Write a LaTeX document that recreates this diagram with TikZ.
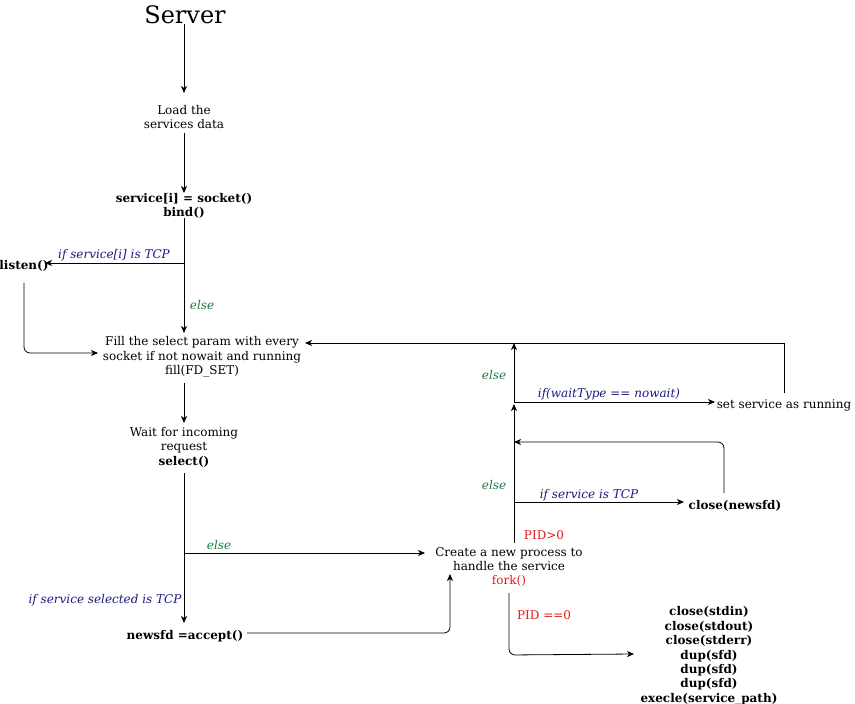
\documentclass[tikz,border=0pt]{standalone}
\usepackage{fontspec}
\setmainfont{DejaVu Serif}
\usetikzlibrary{arrows.meta}
\definecolor{navy}{HTML}{1A1A80}
\definecolor{grn}{HTML}{1B7A45}
\definecolor{pidred}{HTML}{E01B1B}
\begin{document}
\begin{tikzpicture}[x=1pt,y=-1pt,
  txt/.style={inner sep=0pt,align=center,yshift=-2pt,font=\fontsize{12}{14.4}\selectfont},
  btxt/.style={txt,font=\fontsize{12}{14.4}\selectfont\bfseries},
  cond/.style={inner sep=0pt,yshift=-1.5pt,font=\fontsize{12}{14.4}\selectfont\itshape,text=navy},
  elsel/.style={inner sep=0pt,yshift=-1.5pt,font=\fontsize{12}{14.4}\selectfont\itshape,text=grn},
  pid/.style={inner sep=0pt,yshift=-1.5pt,font=\fontsize{12}{14.4}\selectfont,text=pidred},
  conn/.style={draw,line width=0.8pt,-{Stealth[length=7pt,width=6pt,inset=2pt]}},
  plain/.style={draw,line width=0.8pt},
  rc/.style={rounded corners=6pt}]
\useasboundingbox (0,0) rectangle (855,704);

% nodes
\node[txt,yshift=1pt,font=\fontsize{24}{28}\selectfont] (server) at (185,14) {Server};
\node[txt] (load) at (184,115) {Load the\\services data};
\node[btxt] (sock) at (184,204) {service[i] = socket()\\bind()};
\node[btxt] (listen) at (24,264) {listen()};
\node[txt] (fill) at (202,355) {Fill the select param with every\\socket if not nowait and running\\fill(FD\_SET)};
\node[txt] (wait) at (184,445) {Wait for incoming\\request\\\textbf{select()}};
\node[btxt] (accept) at (185,634) {newsfd =accept()};
\node[txt] (fork) at (509,565) {Create a new process to\\handle the service\\\textcolor{pidred}{fork()}};
\node[btxt] (close) at (735,504) {close(newsfd)};
\node[txt] (running) at (784,403) {set service as running};
\node[btxt] (child) at (709,654) {close(stdin)\\close(stdout)\\close(stderr)\\dup(sfd)\\dup(sfd)\\dup(sfd)\\execle(service\_path)};

% labels
\node[cond] (l1) at (114,254) {if service[i] is TCP};
\node[elsel] (l2) at (202,304) {else};
\node[elsel] (l3) at (219,544) {else};
\node[cond] (l4) at (105,599) {if service selected is TCP};
\node[pid] (l5) at (544,534) {PID>0};
\node[pid] (l6) at (544,614) {PID ==0};
\node[elsel] (l7) at (494,484) {else};
\node[cond] (l8) at (589,494) {if service is TCP};
\node[elsel] (l9) at (494,374) {else};
\node[cond] (l10) at (609,393) {if(waitType == nowait)};

% coordinates
\coordinate (jA) at (184,263);
\coordinate (jB) at (184,553);
\coordinate (jC) at (514,502);
\coordinate (jD) at (514,402);
\coordinate (forkup) at (514,543);
\coordinate (fillin) at (305,343);
\coordinate (closein) at (514,442);

% connectors
\draw[conn] (184,24) -- (184,93);
\draw[conn] (184,133) -- (184,193);
\draw[plain] (184,218) -- (jA);
\draw[conn] (jA) -- (184,333);
\draw[conn] (jA) -- (45,263);
\draw[conn,rc] (24,283) -- (24,353) -- (98,353);
\draw[conn] (184,383) -- (184,423);
\draw[plain] (184,473) -- (jB);
\draw[conn] (jB) -- (184,623);
\draw[conn] (jB) -- (425,553);
\draw[conn,rc] (247,633) -- (450,633) -- (450,574);
\draw[plain] (forkup) -- (jC);
\draw[conn] (jC) -- (514,404);
\draw[conn] (jC) -- (684,502);
\draw[conn,rc] (724,493) -- (724,442) -- (closein);
\draw[conn] (jD) -- (514,343);
\draw[conn] (jD) -- (715,402);
\draw[conn] (784,393) -- (784,343) -- (fillin);
\draw[conn,rc] (509,593) -- (509,655) -- (634,654);
\end{tikzpicture}
\end{document}
